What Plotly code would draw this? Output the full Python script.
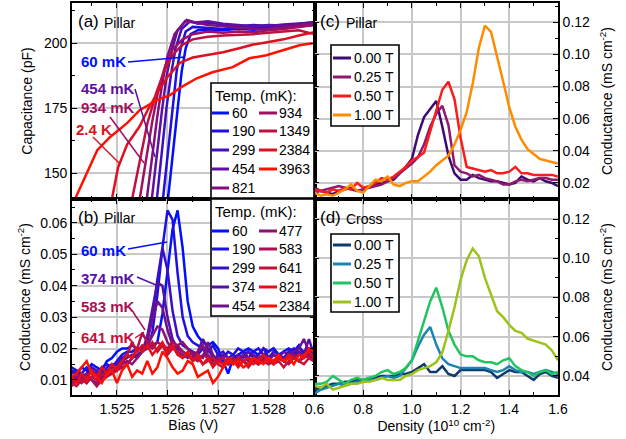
import plotly.graph_objects as go

W, H = 626, 439
FONT = "Liberation Sans, Arial, sans-serif"

# ---------------- Panel (a): capacitance (pF) vs bias (V) ----------------
a_temps = [60, 190, 299, 454, 821, 934, 1349, 2384, 3963]
a_bias_60 = [1.52601, 1.52612, 1.52620, 1.52628, 1.52636, 1.52646, 1.5266, 1.5268, 1.5271, 1.5274, 1.5277, 1.5280, 1.5283, 1.5286, 1.5289]
a_cap_60 = [140, 160, 176, 189, 198, 203.5, 205, 205.3, 205.0, 205.6, 205.2, 205.8, 206.0, 206.4, 207.0]
a_bias_190 = [1.52591, 1.52602, 1.5261, 1.52618, 1.52626, 1.52636, 1.5265, 1.5268, 1.5271, 1.5274, 1.5277, 1.5280, 1.5283, 1.5286, 1.5289]
a_cap_190 = [140, 160, 176, 189, 198, 204.5, 206.3, 206.0, 205.5, 206.2, 205.8, 206.5, 206.8, 207.2, 207.6]
a_bias_299 = [1.52579, 1.5259, 1.52598, 1.52607, 1.52616, 1.52628, 1.52645, 1.5266, 1.5268, 1.5271, 1.5274, 1.5277, 1.5280, 1.5283, 1.5286, 1.5289]
a_cap_299 = [140, 160, 175, 188, 198, 205.5, 208.5, 207.5, 208.0, 207.2, 206.5, 207.0, 206.6, 207.2, 207.6, 208.0]
a_bias_454 = [1.52569, 1.5258, 1.52589, 1.52598, 1.52608, 1.5262, 1.52638, 1.52655, 1.5268, 1.5271, 1.5274, 1.5277, 1.5280, 1.5283, 1.5286, 1.5289]
a_cap_454 = [140, 159, 174, 187, 197, 205, 209, 208, 208.5, 207.5, 207.0, 206.5, 207.0, 206.8, 207.4, 208.2]
a_bias_821 = [1.52559, 1.5257, 1.5258, 1.5259, 1.526, 1.52614, 1.52635, 1.5266, 1.5268, 1.5271, 1.5274, 1.5277, 1.5280, 1.5283, 1.5286, 1.5289]
a_cap_821 = [140, 157, 172, 185, 195, 203.5, 208.5, 207.8, 207.0, 206.5, 206.0, 205.5, 205.6, 206.2, 206.8, 207.6]
a_bias_934 = [1.52545, 1.52558, 1.5257, 1.52582, 1.52595, 1.5261, 1.5263, 1.5265, 1.5268, 1.5271, 1.5274, 1.5277, 1.5280, 1.5283, 1.5286, 1.5289]
a_cap_934 = [140, 156, 170, 182, 191, 197.5, 201.5, 203.5, 204.5, 204.0, 204.5, 204.2, 205.0, 205.5, 206.2, 207.0]
a_bias_1349 = [1.5253, 1.52545, 1.5256, 1.52578, 1.52595, 1.5261, 1.5263, 1.5265, 1.5268, 1.5271, 1.5274, 1.5277, 1.5280, 1.5283, 1.5286, 1.5289]
a_cap_1349 = [140, 155, 169, 181, 190, 195.5, 199.5, 201.5, 202.5, 203.0, 203.2, 203.5, 204.0, 204.5, 205.0, 203.5]
a_bias_2384 = [1.5249, 1.52502, 1.5252, 1.52545, 1.5256, 1.5258, 1.526, 1.52625, 1.5265, 1.5268, 1.5271, 1.5274, 1.5277, 1.5280, 1.5283, 1.5286, 1.5289]
a_cap_2384 = [140, 152, 161, 168, 174, 181, 187, 192.5, 194.5, 195.5, 196.5, 198, 199.5, 200.5, 201.5, 203, 204.2]
a_bias_3963 = [1.52417, 1.52461, 1.52486, 1.5252, 1.52545, 1.52579, 1.52605, 1.52624, 1.52658, 1.52689, 1.52729, 1.52762, 1.52796, 1.52827, 1.52861, 1.52887]
a_cap_3963 = [140, 158.8, 163.8, 169.2, 174.2, 178.1, 180, 182.7, 186.5, 188.8, 190.8, 194.2, 195.4, 197.3, 199.2, 200.0]

# ---------------- Panel (b): conductance vs bias ----------------
b_temps = [60, 190, 299, 374, 454, 477, 583, 641, 821, 2384]
b_bias = [1.5241, 1.5242, 1.5243, 1.5244, 1.5245, 1.5246, 1.5247, 1.5248, 1.5249,
          1.5250, 1.5251, 1.5252, 1.5253, 1.5254, 1.5255, 1.5256, 1.5257, 1.5258, 1.5259,
          1.5260, 1.5261, 1.5262, 1.5263, 1.5264, 1.5265, 1.5266, 1.5267, 1.5268, 1.5269,
          1.5270, 1.5271, 1.5272, 1.5273, 1.5274, 1.5275, 1.5276, 1.5277, 1.5278, 1.5279,
          1.5280, 1.5281, 1.5282, 1.5283, 1.5284, 1.5285, 1.5286, 1.5287, 1.5288, 1.5289]
b_g_60 = [0.013, 0.012, 0.014, 0.013, 0.015, 0.014, 0.013, 0.016, 0.017,
          0.019, 0.020, 0.020, 0.021, 0.020, 0.020, 0.020, 0.021, 0.022, 0.031,
          0.045, 0.058, 0.064, 0.052, 0.035, 0.027, 0.024, 0.022, 0.021, 0.022,
          0.020, 0.016, 0.012, 0.017, 0.018, 0.019, 0.020, 0.019, 0.018, 0.020,
          0.019, 0.020, 0.018, 0.019, 0.020, 0.019, 0.021, 0.018, 0.020, 0.019]
b_g_190 = [0.014, 0.013, 0.012, 0.014, 0.013, 0.012, 0.014, 0.015, 0.014,
           0.016, 0.018, 0.019, 0.019, 0.020, 0.019, 0.020, 0.025, 0.037, 0.052,
           0.064, 0.061, 0.044, 0.030, 0.024, 0.022, 0.021, 0.020, 0.019, 0.021,
           0.018, 0.017, 0.019, 0.018, 0.020, 0.019, 0.017, 0.019, 0.020, 0.018,
           0.019, 0.020, 0.018, 0.017, 0.019, 0.020, 0.018, 0.019, 0.020, 0.018]
b_g_299 = [0.012, 0.013, 0.011, 0.012, 0.014, 0.013, 0.012, 0.014, 0.015,
           0.015, 0.017, 0.018, 0.017, 0.018, 0.019, 0.022, 0.030, 0.042, 0.052,
           0.045, 0.032, 0.024, 0.021, 0.020, 0.019, 0.018, 0.020, 0.017, 0.016,
           0.018, 0.019, 0.017, 0.018, 0.016, 0.018, 0.019, 0.017, 0.018, 0.020,
           0.017, 0.019, 0.018, 0.017, 0.019, 0.018, 0.020, 0.019, 0.018, 0.017]
b_g_374 = [0.011, 0.010, 0.012, 0.011, 0.013, 0.012, 0.011, 0.013, 0.014,
           0.015, 0.016, 0.017, 0.018, 0.017, 0.019, 0.024, 0.032, 0.041, 0.040,
           0.030, 0.023, 0.020, 0.019, 0.018, 0.017, 0.019, 0.023, 0.020, 0.017,
           0.016, 0.018, 0.017, 0.016, 0.018, 0.017, 0.019, 0.018, 0.017, 0.018,
           0.016, 0.018, 0.017, 0.019, 0.018, 0.017, 0.019, 0.018, 0.023, 0.018]
b_g_454 = [0.010, 0.012, 0.011, 0.009, 0.011, 0.012, 0.010, 0.012, 0.013,
           0.014, 0.016, 0.015, 0.017, 0.018, 0.019, 0.023, 0.029, 0.035, 0.033,
           0.026, 0.021, 0.019, 0.018, 0.017, 0.019, 0.018, 0.017, 0.022, 0.018,
           0.016, 0.017, 0.015, 0.017, 0.016, 0.018, 0.016, 0.017, 0.015, 0.017,
           0.016, 0.018, 0.017, 0.016, 0.018, 0.019, 0.020, 0.023, 0.019, 0.017]
b_g_477 = [0.009, 0.011, 0.010, 0.012, 0.010, 0.009, 0.011, 0.012, 0.013,
           0.013, 0.015, 0.016, 0.015, 0.017, 0.019, 0.021, 0.024, 0.027, 0.026,
           0.022, 0.020, 0.021, 0.022, 0.020, 0.018, 0.019, 0.021, 0.018, 0.016,
           0.017, 0.015, 0.016, 0.017, 0.015, 0.016, 0.017, 0.016, 0.015, 0.017,
           0.016, 0.015, 0.017, 0.016, 0.017, 0.018, 0.016, 0.017, 0.018, 0.016]
b_g_583 = [0.008, 0.010, 0.009, 0.011, 0.010, 0.008, 0.010, 0.011, 0.012,
           0.013, 0.014, 0.015, 0.017, 0.020, 0.025, 0.022, 0.020, 0.022, 0.021,
           0.020, 0.022, 0.021, 0.019, 0.018, 0.017, 0.016, 0.018, 0.017, 0.015,
           0.016, 0.017, 0.015, 0.016, 0.017, 0.016, 0.015, 0.016, 0.017, 0.016,
           0.015, 0.016, 0.017, 0.016, 0.015, 0.017, 0.016, 0.018, 0.017, 0.016]
b_g_641 = [0.009, 0.008, 0.010, 0.009, 0.011, 0.010, 0.012, 0.011, 0.013,
           0.014, 0.016, 0.018, 0.022, 0.019, 0.021, 0.020, 0.022, 0.019, 0.021,
           0.018, 0.020, 0.019, 0.017, 0.018, 0.016, 0.017, 0.015, 0.016, 0.017,
           0.015, 0.014, 0.016, 0.015, 0.017, 0.016, 0.014, 0.016, 0.015, 0.016,
           0.017, 0.015, 0.016, 0.014, 0.016, 0.017, 0.016, 0.015, 0.017, 0.016]
b_g_821 = [0.011, 0.009, 0.012, 0.010, 0.013, 0.011, 0.014, 0.012, 0.015,
           0.013, 0.016, 0.018, 0.017, 0.020, 0.019, 0.021, 0.018, 0.020, 0.022,
           0.019, 0.021, 0.018, 0.017, 0.019, 0.016, 0.018, 0.015, 0.017, 0.014,
           0.016, 0.015, 0.017, 0.016, 0.014, 0.016, 0.017, 0.015, 0.016, 0.018,
           0.016, 0.015, 0.017, 0.016, 0.018, 0.017, 0.016, 0.018, 0.019, 0.017]
b_g_2384 = [0.011, 0.012, 0.014, 0.016, 0.012, 0.011, 0.009, 0.012, 0.013,
            0.009, 0.013, 0.015, 0.011, 0.013, 0.012, 0.016, 0.012, 0.014, 0.019,
            0.017, 0.014, 0.012, 0.013, 0.016, 0.015, 0.011, 0.012, 0.013, 0.009,
            0.011, 0.014, 0.016, 0.015, 0.016, 0.014, 0.015, 0.017, 0.016, 0.015,
            0.017, 0.016, 0.018, 0.016, 0.017, 0.015, 0.018, 0.017, 0.020, 0.019]

# ---------------- Panels (c), (d): conductance vs density ----------------
fields = ["0.00 T", "0.25 T", "0.50 T", "1.00 T"]
density = [0.600, 0.625, 0.650, 0.675, 0.700, 0.725, 0.750, 0.775, 0.800, 0.825,
           0.850, 0.875, 0.900, 0.925, 0.950, 0.975, 1.000, 1.025, 1.050, 1.075,
           1.100, 1.125, 1.150, 1.175, 1.200, 1.225, 1.250, 1.275, 1.300, 1.325,
           1.350, 1.375, 1.400, 1.425, 1.450, 1.475, 1.500, 1.525, 1.550, 1.575, 1.600]
c_g_000 = [0.017, 0.015, 0.014, 0.013, 0.015, 0.016, 0.017, 0.015, 0.016, 0.018,
           0.019, 0.020, 0.021, 0.022, 0.026, 0.030, 0.035, 0.050, 0.061, 0.066,
           0.071, 0.055, 0.037, 0.026, 0.022, 0.022, 0.025, 0.023, 0.022, 0.021,
           0.021, 0.020, 0.019, 0.020, 0.024, 0.022, 0.021, 0.023, 0.021, 0.020, 0.018]
c_g_025 = [0.014, 0.015, 0.016, 0.017, 0.018, 0.017, 0.016, 0.015, 0.016, 0.017,
           0.018, 0.019, 0.021, 0.023, 0.026, 0.029, 0.032, 0.036, 0.044, 0.055,
           0.063, 0.068, 0.056, 0.031, 0.027, 0.026, 0.024, 0.025, 0.023, 0.022,
           0.021, 0.019, 0.019, 0.021, 0.022, 0.021, 0.022, 0.023, 0.023, 0.022, 0.022]
c_g_050 = [0.016, 0.015, 0.014, 0.016, 0.015, 0.017, 0.016, 0.020, 0.017, 0.018,
           0.020, 0.023, 0.022, 0.024, 0.027, 0.030, 0.034, 0.036, 0.039, 0.052,
           0.065, 0.078, 0.083, 0.072, 0.048, 0.030, 0.029, 0.028, 0.027, 0.028,
           0.026, 0.026, 0.027, 0.030, 0.026, 0.026, 0.025, 0.025, 0.025, 0.025, 0.024]
c_g_100 = [0.014, 0.012, 0.013, 0.012, 0.014, 0.016, 0.019, 0.015, 0.014, 0.018,
           0.022, 0.021, 0.024, 0.019, 0.018, 0.020, 0.021, 0.021, 0.024, 0.027,
           0.031, 0.034, 0.037, 0.044, 0.053, 0.064, 0.082, 0.104, 0.118, 0.114,
           0.099, 0.083, 0.067, 0.055, 0.047, 0.041, 0.038, 0.035, 0.034, 0.033, 0.032]
d_g_000 = [0.033, 0.034, 0.035, 0.036, 0.036, 0.037, 0.037, 0.038, 0.038, 0.039,
           0.039, 0.040, 0.040, 0.040, 0.041, 0.041, 0.042, 0.044, 0.046, 0.042,
           0.042, 0.045, 0.041, 0.040, 0.043, 0.043, 0.043, 0.043, 0.043, 0.042,
           0.039, 0.041, 0.043, 0.042, 0.042, 0.040, 0.038, 0.041, 0.042, 0.040, 0.039]
d_g_025 = [0.031, 0.033, 0.034, 0.035, 0.036, 0.035, 0.036, 0.037, 0.037, 0.038,
           0.038, 0.039, 0.040, 0.039, 0.040, 0.044, 0.048, 0.055, 0.061, 0.065,
           0.056, 0.049, 0.046, 0.045, 0.044, 0.044, 0.044, 0.044, 0.044, 0.043,
           0.042, 0.043, 0.045, 0.043, 0.042, 0.042, 0.041, 0.042, 0.043, 0.042, 0.041]
d_g_050 = [0.036, 0.036, 0.037, 0.040, 0.038, 0.036, 0.038, 0.039, 0.038, 0.039,
           0.040, 0.042, 0.043, 0.041, 0.042, 0.044, 0.048, 0.058, 0.068, 0.078,
           0.085, 0.075, 0.063, 0.056, 0.051, 0.050, 0.050, 0.048, 0.047, 0.047,
           0.046, 0.048, 0.049, 0.045, 0.043, 0.042, 0.040, 0.042, 0.043, 0.041, 0.042]
d_g_100 = [0.035, 0.034, 0.036, 0.033, 0.034, 0.035, 0.036, 0.036, 0.037, 0.037,
           0.038, 0.039, 0.038, 0.038, 0.038, 0.040, 0.041, 0.043, 0.044, 0.045,
           0.047, 0.052, 0.063, 0.075, 0.089, 0.099, 0.105, 0.101, 0.090, 0.081,
           0.073, 0.070, 0.066, 0.063, 0.062, 0.059, 0.058, 0.057, 0.056, 0.053, 0.048]

# ---------------- styling helpers ----------------
def ramp(n):
    out = []
    for k in range(n):
        t = k / (n - 1)
        out.append("rgb(%d,16,%d)" % (round(255 * t), round(255 * (1 - t))))
    return out

col_a = dict(zip(a_temps, ramp(len(a_temps))))
col_b = dict(zip(b_temps, ramp(len(b_temps))))
col_c = ["#3f0a72", "#8e1a6d", "#fb1d1d", "#ff8c00"]
col_d = ["#0d3b6e", "#1a86b0", "#22c460", "#9cc21c"]

def X(px):
    return px / W

def Y(py):
    return 1 - py / H

fig = go.Figure()
LW = 2.5

a_series = [(60, a_bias_60, a_cap_60), (190, a_bias_190, a_cap_190), (299, a_bias_299, a_cap_299),
            (454, a_bias_454, a_cap_454), (821, a_bias_821, a_cap_821), (934, a_bias_934, a_cap_934),
            (1349, a_bias_1349, a_cap_1349), (2384, a_bias_2384, a_cap_2384), (3963, a_bias_3963, a_cap_3963)]
for t, xs, ys in a_series:
    fig.add_trace(go.Scatter(x=xs, y=ys, mode="lines", line=dict(color=col_a[t], width=LW),
                             xaxis="x", yaxis="y", showlegend=False, name="%d mK" % t))

b_series = [b_g_60, b_g_190, b_g_299, b_g_374, b_g_454, b_g_477, b_g_583, b_g_641, b_g_821, b_g_2384]
for t, ys in zip(b_temps, b_series):
    fig.add_trace(go.Scatter(x=b_bias, y=ys, mode="lines", line=dict(color=col_b[t], width=LW),
                             xaxis="x2", yaxis="y2", showlegend=False, name="%d mK" % t))

for f, ys, c in zip(fields, [c_g_000, c_g_025, c_g_050, c_g_100], col_c):
    fig.add_trace(go.Scatter(x=density, y=ys, mode="lines", line=dict(color=c, width=LW),
                             xaxis="x3", yaxis="y3", showlegend=False, name=f))
for f, ys, c in zip(fields, [d_g_000, d_g_025, d_g_050, d_g_100], col_d):
    fig.add_trace(go.Scatter(x=density, y=ys, mode="lines", line=dict(color=c, width=LW),
                             xaxis="x4", yaxis="y4", showlegend=False, name=f))

# ---------------- axes ----------------
xl = [X(72), X(314.5)]
xr = [X(314.5), X(558)]
yt = [Y(199), Y(3)]
yb = [Y(395), Y(199)]

def ax(**kw):
    base = dict(showline=True, linecolor="black", linewidth=1.6, mirror="ticks",
                ticks="inside", ticklen=5, tickwidth=1.3, tickcolor="black",
                showgrid=True, gridcolor="#c8c8c8", gridwidth=1.5, zeroline=False,
                tickfont=dict(family=FONT, size=14, color="black"), automargin=False)
    base.update(kw)
    return base

cond_title = "Conductance (mS cm<sup>-2</sup>)"
tf = dict(family=FONT, size=14, color="black")

fig.update_layout(
    xaxis=ax(domain=xl, anchor="y", range=[1.52411, 1.52891], tick0=1.525, dtick=0.001,
             showticklabels=False,
             minor=dict(ticks="inside", ticklen=3, dtick=0.0005, tick0=1.525, tickcolor="black", showgrid=False)),
    yaxis=ax(domain=yt, anchor="x", range=[140, 215.5], tick0=150, dtick=25,
             title=dict(text="Capacitance (pF)", font=tf, standoff=8),
             minor=dict(ticks="inside", ticklen=3, dtick=12.5, tick0=150, tickcolor="black", showgrid=False)),
    xaxis2=ax(domain=xl, anchor="y2", range=[1.52411, 1.52891], tick0=1.525, dtick=0.001, tickformat=".3f",
              title=dict(text="Bias (V)", font=tf, standoff=1),
              minor=dict(ticks="inside", ticklen=3, dtick=0.0005, tick0=1.525, tickcolor="black", showgrid=False)),
    yaxis2=ax(domain=yb, anchor="x2", range=[0.0052, 0.0676], tick0=0.01, dtick=0.01, tickformat=".2f",
              title=dict(text=cond_title, font=tf, standoff=6),
              minor=dict(ticks="inside", ticklen=3, dtick=0.005, tick0=0.01, tickcolor="black", showgrid=False)),
    xaxis3=ax(domain=xr, anchor="y3", range=[0.5999, 1.6001], tick0=0.6, dtick=0.2, showticklabels=False,
              minor=dict(ticks="inside", ticklen=3, dtick=0.1, tick0=0.6, tickcolor="black", showgrid=False)),
    yaxis3=ax(domain=yt, anchor="x3", side="right", range=[0.010, 0.132], tick0=0.02, dtick=0.02, tickformat=".2f",
              title=dict(text=cond_title, font=tf, standoff=13),
              minor=dict(ticks="inside", ticklen=3, dtick=0.01, tick0=0.02, tickcolor="black", showgrid=False)),
    xaxis4=ax(domain=xr, anchor="y4", range=[0.5999, 1.6001], tick0=0.6, dtick=0.2, tickformat=".1f",
              title=dict(text="Density (10<sup>10</sup> cm<sup>-2</sup>)", font=tf, standoff=1),
              minor=dict(ticks="inside", ticklen=3, dtick=0.1, tick0=0.6, tickcolor="black", showgrid=False)),
    yaxis4=ax(domain=yb, anchor="x4", side="right", range=[0.0303, 0.1302], tick0=0.04, dtick=0.02, tickformat=".2f",
              title=dict(text=cond_title, font=tf, standoff=13),
              minor=dict(ticks="inside", ticklen=3, dtick=0.01, tick0=0.04, tickcolor="black", showgrid=False)),
)

shapes = []
annos = []

def text(px, py, s, size=14, color="black", bold=False, anchor="left"):
    if bold:
        s = "<b>%s</b>" % s
    annos.append(dict(x=X(px), y=Y(py), xref="paper", yref="paper", text=s, showarrow=False,
                      xanchor=anchor, yanchor="middle", font=dict(family=FONT, size=size, color=color)))

def seg(p0, p1, color, width=1.5):
    shapes.append(dict(type="line", xref="paper", yref="paper", x0=X(p0[0]), y0=Y(p0[1]),
                       x1=X(p1[0]), y1=Y(p1[1]), line=dict(color=color, width=width), layer="above"))

def legend_box(x0, y0, x1, y1):
    shapes.append(dict(type="rect", xref="paper", yref="paper", x0=X(x0), x1=X(x1), y0=Y(y1), y1=Y(y0),
                       fillcolor="white", line=dict(color="black", width=1.6), layer="above"))

# panel labels
for px, py, tag, name in [(76, 22, "(a)", "Pillar"), (76, 217, "(b)", "Pillar"),
                          (318, 22, "(c)", "Pillar"), (318, 218, "(d)", "Cross")]:
    text(px, py, tag, size=17)
    text(px + 26, py + 1, name, size=14)

# panel (a) annotations
text(79, 62, "60 mK", size=15, color=col_a[60], bold=True)
seg((128, 62), (185, 57), col_a[60])
text(79, 88, "454 mK", size=15, color=col_a[454], bold=True)
seg((135, 89), (155, 157), col_a[454])
text(79, 108, "934 mK", size=15, color=col_a[934], bold=True)
seg((110, 117), (144, 163), col_a[934])
text(74, 130, "2.4 K", size=15, color=col_a[2384], bold=True)
seg((93, 137), (120, 164), col_a[2384])

# panel (b) annotations
text(79, 250, "60 mK", size=15, color=col_b[60], bold=True)
seg((128, 249), (167, 242), col_b[60])
text(79, 278, "374 mK", size=15, color=col_b[374], bold=True)
seg((137, 277), (156, 285), col_b[374])
text(79, 306, "583 mK", size=15, color=col_b[583], bold=True)
seg((133, 312), (145, 330), col_b[583])
text(79, 337, "641 mK", size=15, color=col_b[641], bold=True)
seg((135, 338), (144, 332), col_b[641])

# legends (a) and (b): two columns
def temp_legend(box, head_py, rows, left, right, cols):
    legend_box(*box)
    text(box[0] + 2, head_py, "Temp. (mK):", size=15)
    for i, t in enumerate(left):
        seg((212, rows[i]), (229, rows[i]), cols[t], width=3)
        text(230, rows[i], str(t), size=14)
    for i, t in enumerate(right):
        seg((259, rows[i]), (277, rows[i]), cols[t], width=3)
        text(277, rows[i], str(t), size=14)

temp_legend((211, 83, 314, 198), 95, [113, 131, 150, 169, 188],
            [60, 190, 299, 454, 821], [934, 1349, 2384, 3963], col_a)
temp_legend((211, 199, 314, 316), 212, [231, 249, 268, 287, 306],
            [60, 190, 299, 374, 454], [477, 583, 641, 821, 2384], col_b)

def field_legend(box, rows, cols):
    legend_box(*box)
    for i, f in enumerate(fields):
        seg((333, rows[i]), (351, rows[i]), cols[i], width=3)
        text(352, rows[i], f, size=14)

field_legend((331, 45, 399, 126), [58, 77, 96, 115], col_c)
field_legend((331, 234, 399, 312), [245, 264, 283, 302], col_d)

fig.update_layout(
    width=W, height=H, autosize=False, template="none",
    margin=dict(l=0, r=0, t=0, b=0),
    paper_bgcolor="white", plot_bgcolor="white",
    font=dict(family=FONT, size=14, color="black"),
    shapes=shapes, annotations=annos, showlegend=False,
)

fig.write_html("out.html", config={"displayModeBar": False},
               post_script="document.body.style.margin='0';document.body.style.padding='0';")
